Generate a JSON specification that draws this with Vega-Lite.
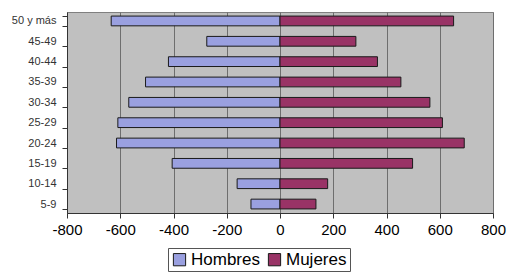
{
  "$schema": "https://vega.github.io/schema/vega-lite/v6.json",
  "width": 426,
  "height": 201,
  "autosize": {"type": "none"},
  "padding": {"left": 67, "top": 12, "right": 23, "bottom": 62},
  "background": "white",
  "config": {
    "view": {"fill": "#c0c0c0", "stroke": "#808080", "strokeWidth": 1},
    "font": "Liberation Sans"
  },
  "data": {
    "values": [
      {"edad": "50 y más", "sexo": "Hombres", "valor": -634},
      {"edad": "45-49", "sexo": "Hombres", "valor": -275},
      {"edad": "40-44", "sexo": "Hombres", "valor": -419},
      {"edad": "35-39", "sexo": "Hombres", "valor": -505},
      {"edad": "30-34", "sexo": "Hombres", "valor": -568},
      {"edad": "25-29", "sexo": "Hombres", "valor": -609},
      {"edad": "20-24", "sexo": "Hombres", "valor": -614},
      {"edad": "15-19", "sexo": "Hombres", "valor": -405},
      {"edad": "10-14", "sexo": "Hombres", "valor": -161},
      {"edad": "5-9", "sexo": "Hombres", "valor": -109},
      {"edad": "50 y más", "sexo": "Mujeres", "valor": 652},
      {"edad": "45-49", "sexo": "Mujeres", "valor": 285},
      {"edad": "40-44", "sexo": "Mujeres", "valor": 366},
      {"edad": "35-39", "sexo": "Mujeres", "valor": 454},
      {"edad": "30-34", "sexo": "Mujeres", "valor": 563},
      {"edad": "25-29", "sexo": "Mujeres", "valor": 610},
      {"edad": "20-24", "sexo": "Mujeres", "valor": 692},
      {"edad": "15-19", "sexo": "Mujeres", "valor": 498},
      {"edad": "10-14", "sexo": "Mujeres", "valor": 179},
      {"edad": "5-9", "sexo": "Mujeres", "valor": 135}
    ]
  },
  "mark": {"type": "bar", "stroke": "#1a1a1a", "strokeWidth": 1, "opacity": 1},
  "encoding": {
    "y": {
      "field": "edad",
      "type": "nominal",
      "sort": ["50 y más", "45-49", "40-44", "35-39", "30-34", "25-29", "20-24", "15-19", "10-14", "5-9"],
      "scale": {"paddingInner": 0.52, "paddingOuter": 0.2},
      "axis": {
        "title": null,
        "labelFontSize": 11,
        "labelColor": "#333333",
        "labelPadding": 6,
        "domainColor": "#333333",
        "tickColor": "#333333",
        "tickSize": 5,
        "tickBand": "extent",
        "grid": false
      }
    },
    "x": {
      "field": "valor",
      "type": "quantitative",
      "scale": {"domain": [-800, 800], "nice": false},
      "axis": {
        "title": null,
        "values": [-800, -600, -400, -200, 0, 200, 400, 600, 800],
        "labelExpr": "'' + datum.value",
        "labelFlush": false,
        "labelFontSize": 15,
        "labelColor": "#000000",
        "labelPadding": 4,
        "domainColor": "#333333",
        "tickColor": "#333333",
        "tickSize": 5,
        "grid": true,
        "gridColor": "#6e6e6e",
        "gridWidth": 1
      }
    },
    "color": {
      "field": "sexo",
      "type": "nominal",
      "scale": {"domain": ["Hombres", "Mujeres"], "range": ["#9aa0e0", "#993366"]},
      "legend": {
        "title": null,
        "orient": "none",
        "direction": "horizontal",
        "legendX": 101,
        "legendY": 236,
        "symbolType": "square",
        "symbolSize": 150,
        "symbolStrokeColor": "#1a1a1a",
        "symbolStrokeWidth": 1,
        "symbolOpacity": 1,
        "labelFontSize": 17,
        "labelColor": "#000000",
        "labelOffset": 3,
        "columnPadding": 6,
        "strokeColor": "#555555",
        "padding": 3,
        "fillColor": "white"
      }
    }
  }
}
